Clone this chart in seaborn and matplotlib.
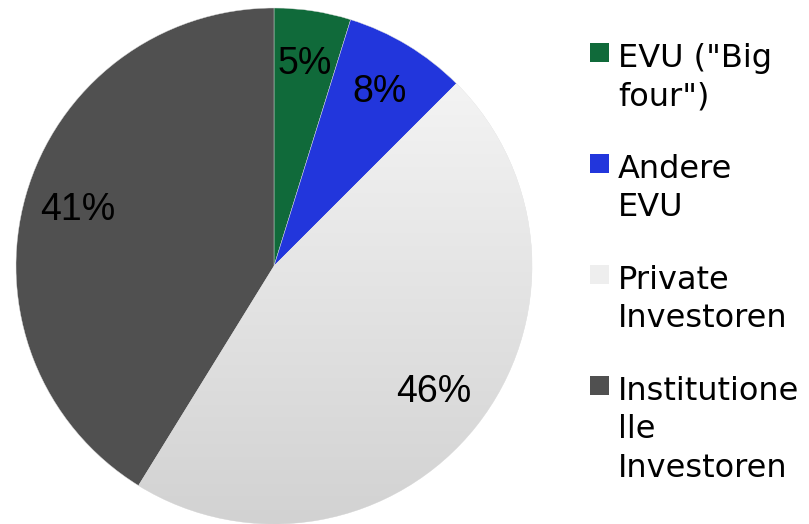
import matplotlib
matplotlib.use("Agg")
import matplotlib.pyplot as plt
import seaborn as sns
import numpy as np
from matplotlib.colors import LinearSegmentedColormap
from matplotlib.patches import Rectangle

# data
labels = ['EVU ("Big\nfour")', "Andere\nEVU", "Private\nInvestoren", "Institutione\nlle\nInvestoren"]
shares = [4.8, 7.7, 46.3, 41.2]
colors = ["#106a3a", "#2236dc", "#eeeeee", "#505050"]

sns.set_theme(style="white")
plt.rcParams["font.family"] = ["Liberation Sans", "DejaVu Sans"]

W, H = 809, 524
fig = plt.figure(figsize=(W / 100, H / 100), dpi=100)

# pie axes: centre (274, 266) px, radius 258 px
cx, cy, r = 274, 266, 258
ax = fig.add_axes([(cx - r) / W, (H - cy - r) / H, 2 * r / W, 2 * r / H])
wedges, texts, autotexts = ax.pie(
    shares,
    colors=colors,
    startangle=90,
    counterclock=False,
    autopct="%.0f%%",
    pctdistance=0.79,
    radius=1,
    wedgeprops={"linewidth": 0.3, "edgecolor": "#dddddd"},
    textprops={"fontsize": 27, "color": "black"},
)
ax.set_xlim(-1, 1)
ax.set_ylim(-1, 1)
ax.set_aspect("equal")
ax.axis("off")

# soft vertical gradient on the light slice, like the original
grad = LinearSegmentedColormap.from_list("g", ["#d2d2d2", "#f9f9f9"])
img = ax.imshow(np.linspace(0, 1, 256).reshape(-1, 1), cmap=grad, origin="lower",
                extent=(-1, 1, -1, 1), aspect="auto", zorder=1.5)
img.set_clip_path(wedges[2])
for t in autotexts:
    t.set_zorder(3)

# legend drawn as square markers + wrapped text
line_h = 37.5
y_top = 45
for lab, col in zip(labels, colors):
    n = lab.count("\n") + 1
    fig.patches.append(Rectangle((590 / W, 1 - (y_top + 17) / H), 19 / W, 19 / H,
                                 transform=fig.transFigure, facecolor=col,
                                 edgecolor="none"))
    fig.text(618 / W, 1 - (y_top - 2) / H, lab, fontsize=23, va="top", ha="left",
             linespacing=1.31, color="black", family=["DejaVu Sans"])
    y_top += n * line_h + 36

fig.savefig("out.png", dpi=100)
